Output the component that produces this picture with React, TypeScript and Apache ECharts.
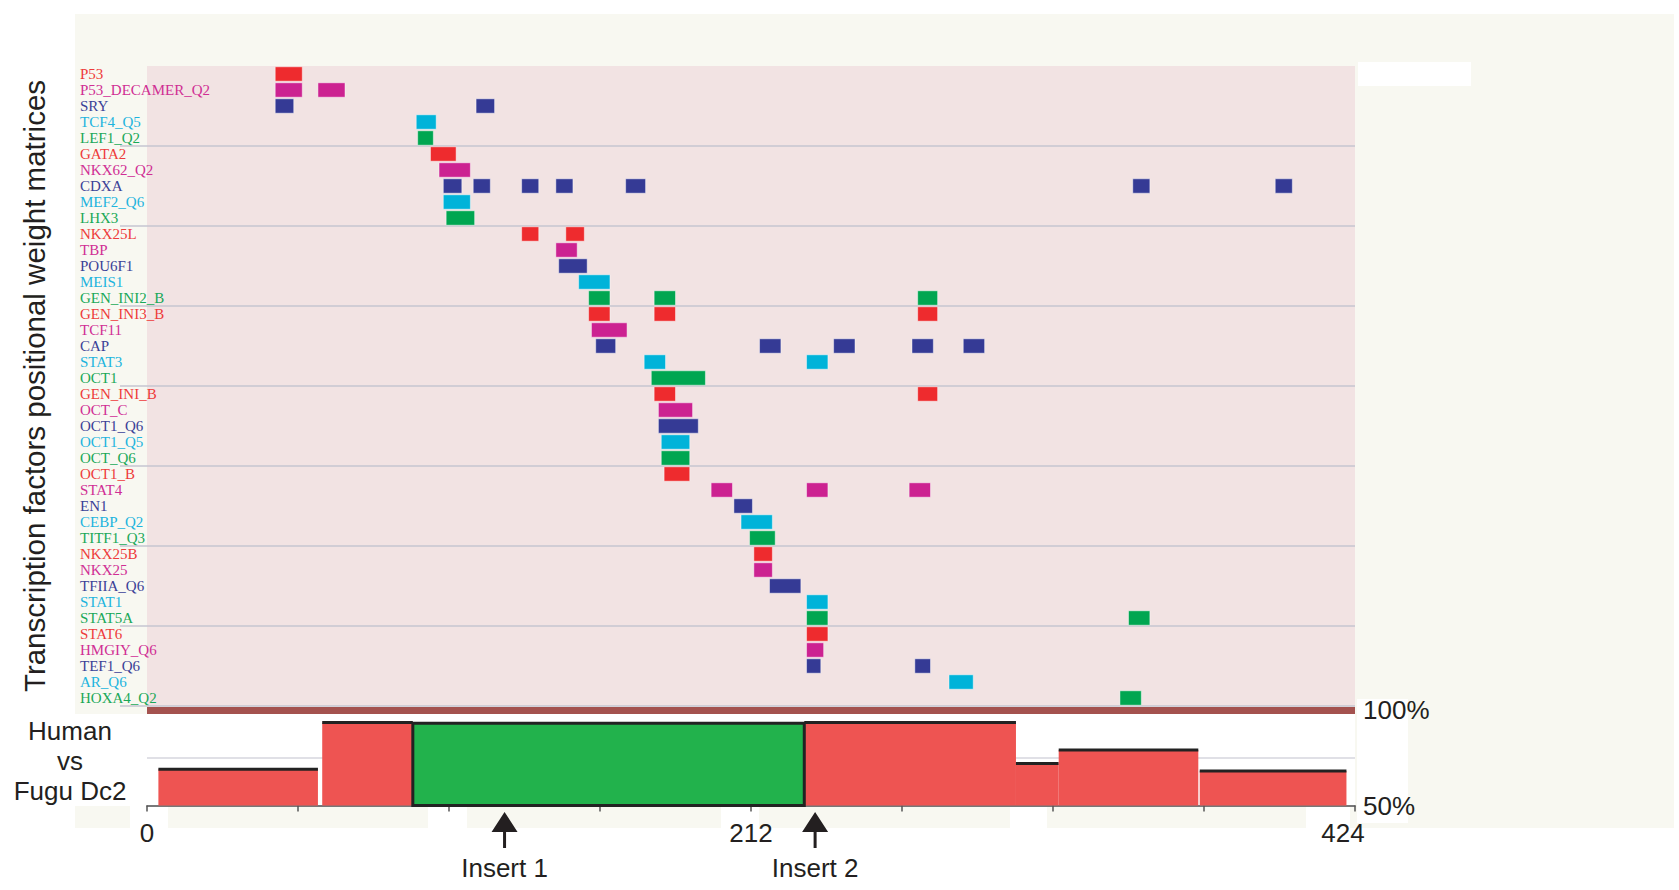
import React, { useEffect, useRef } from "react";
import * as echarts from "echarts";

// ---------- data ----------
const tfNames = [
  "P53", "P53_DECAMER_Q2", "SRY", "TCF4_Q5", "LEF1_Q2",
  "GATA2", "NKX62_Q2", "CDXA", "MEF2_Q6", "LHX3",
  "NKX25L", "TBP", "POU6F1", "MEIS1", "GEN_INI2_B",
  "GEN_INI3_B", "TCF11", "CAP", "STAT3", "OCT1",
  "GEN_INI_B", "OCT_C", "OCT1_Q6", "OCT1_Q5", "OCT_Q6",
  "OCT1_B", "STAT4", "EN1", "CEBP_Q2", "TITF1_Q3",
  "NKX25B", "NKX25", "TFIIA_Q6", "STAT1", "STAT5A",
  "STAT6", "HMGIY_Q6", "TEF1_Q6", "AR_Q6", "HOXA4_Q2",
];

// binding sites per matrix: [start, end] in bp
const tfSites: number[][][] = [
  [[45, 54.5]],
  [[45, 54.5], [60, 69.5]],
  [[45, 51.5], [115.5, 122]],
  [[94.5, 101.5]],
  [[95, 100.5]],
  [[99.5, 108.5]],
  [[102.5, 113.5]],
  [[104, 110.5], [114.5, 120.5], [131.5, 137.5], [143.5, 149.5], [168, 175], [346, 352], [396, 402]],
  [[104, 113.5]],
  [[105, 115]],
  [[131.5, 137.5], [147, 153.5]],
  [[143.5, 151]],
  [[144.5, 154.5]],
  [[151.5, 162.5]],
  [[155, 162.5], [178, 185.5], [270.5, 277.5]],
  [[155, 162.5], [178, 185.5], [270.5, 277.5]],
  [[156, 168.5]],
  [[157.5, 164.5], [215, 222.5], [241, 248.5], [268.5, 276], [286.5, 294]],
  [[174.5, 182], [231.5, 239]],
  [[177, 196]],
  [[178, 185.5], [270.5, 277.5]],
  [[179.5, 191.5]],
  [[179.5, 193.5]],
  [[180.5, 190.5]],
  [[180.5, 190.5]],
  [[181.5, 190.5]],
  [[198, 205.5], [231.5, 239], [267.5, 275]],
  [[206, 212.5]],
  [[208.5, 219.5]],
  [[211.5, 220.5]],
  [[213, 219.5]],
  [[213, 219.5]],
  [[218.5, 229.5]],
  [[231.5, 239]],
  [[231.5, 239], [344.5, 352]],
  [[231.5, 239]],
  [[231.5, 237.5]],
  [[231.5, 236.5], [269.5, 275]],
  [[281.5, 290]],
  [[341.5, 349]],
];

const siteColors = ["#ee2b2e", "#cc2291", "#353a95", "#00b3d9", "#00a651"];
const labelColors = ["#ee3b3b", "#d02e94", "#3b4197", "#1db4de", "#1aa858"];
const groupSize = 5;

// conservation profile Human vs Fugu Dc2
const segStarts = [4, 61.5, 93.3, 230.7, 305, 320, 369.5];
const segEnds = [60, 93.3, 230.7, 305, 320, 369, 421];
const segIdentity = [69, 93.5, 93, 93.5, 72, 79, 68];
const segConserved = [false, false, true, false, false, false, false];

const axisMax = 424;
const tickStep = 53;
const shownTicks = [0, 212, 424];
const identityTicks = [50, 100];
const insertNames = ["Insert 1", "Insert 2"];
const insertPositions = [125.5, 234.5];

// ---------- layout ----------
const W = 1679;
const H = 890;
const gridLeft = 147;
const gridRight = W - 1355;
const SANS = "'Liberation Sans', Arial, Helvetica, sans-serif";
const SERIF = "'Liberation Serif', 'Times New Roman', serif";
const INK = "#231f20";

function buildOption(): any {
  const siteData: number[][] = [];
  tfSites.forEach((sites, row) => {
    sites.forEach(([s, e]) => siteData.push([s, e, row]));
  });
  const sepData: number[][] = [];
  for (let b = groupSize; b <= tfNames.length; b += groupSize) sepData.push([0, b - 1]);
  const segData = segStarts.map((s, i) => [s, segEnds[i], segIdentity[i]]);

  return {
    animation: false,
    backgroundColor: "#ffffff",
    grid: [
      {
        left: gridLeft, right: gridRight, top: 66, height: 640,
        show: true, backgroundColor: "#f2e3e3", borderWidth: 0,
      },
      { left: gridLeft, right: gridRight, top: 710, height: 95.5 },
    ],
    xAxis: [
      { type: "value", gridIndex: 0, min: 0, max: axisMax, show: false },
      {
        type: "value", gridIndex: 1, min: 0, max: axisMax, interval: tickStep,
        axisLine: { show: true, lineStyle: { color: "#555", width: 1.5 } },
        axisTick: { show: true, length: 6, lineStyle: { color: "#555", width: 1.5 } },
        splitLine: { show: false },
        axisLabel: {
          margin: 14, fontSize: 26, fontFamily: SANS, color: INK,
          formatter: (v: number) => {
            if (!shownTicks.includes(v)) return "";
            return v === axisMax ? `{last|${v}}` : String(v);
          },
          rich: {
            last: { fontSize: 26, fontFamily: SANS, color: INK, padding: [0, 24, 0, 0] },
          },
        },
      },
    ],
    yAxis: [
      {
        type: "category", gridIndex: 0, data: tfNames, inverse: true,
        axisLine: { show: false }, axisTick: { show: false }, splitLine: { show: false },
        axisLabel: {
          interval: 0, align: "left", margin: 67, fontSize: 15, fontFamily: SERIF,
          color: (_v: string, i: number) => labelColors[i % groupSize],
        },
      },
      {
        type: "value", gridIndex: 1, min: 50, max: 100, interval: 25, position: "right",
        axisLine: { show: false }, axisTick: { show: false },
        splitLine: { show: true, lineStyle: { color: "#d6d6de", width: 1.5 } },
        axisLabel: {
          margin: 8, fontSize: 26, fontFamily: SANS, color: INK,
          formatter: (v: number) => (identityTicks.includes(v) ? `${v}%` : ""),
        },
      },
    ],
    graphic: [
      { type: "rect", z: -10, shape: { x: 75, y: 14, width: 1599, height: 814 }, style: { fill: "#f8f8f1" } },
      { type: "rect", z: -9, shape: { x: 74, y: 714, width: 1281, height: 92 }, style: { fill: "#ffffff" } },
      { type: "rect", z: -9, shape: { x: 1357, y: 699, width: 51, height: 124 }, style: { fill: "#ffffff" } },
      { type: "rect", z: -9, shape: { x: 1358, y: 62, width: 113, height: 24 }, style: { fill: "#ffffff" } },
      { type: "rect", z: -9, shape: { x: 130, y: 806, width: 38, height: 22 }, style: { fill: "#ffffff" } },
      { type: "rect", z: -9, shape: { x: 428, y: 806, width: 39, height: 22 }, style: { fill: "#ffffff" } },
      { type: "rect", z: -9, shape: { x: 721, y: 806, width: 38, height: 22 }, style: { fill: "#ffffff" } },
      { type: "rect", z: -9, shape: { x: 1010, y: 806, width: 37, height: 22 }, style: { fill: "#ffffff" } },
      { type: "rect", z: -9, shape: { x: 1306, y: 806, width: 44, height: 22 }, style: { fill: "#ffffff" } },
      {
        type: "text", x: 34, y: 386, rotation: Math.PI / 2,
        style: {
          text: "Transcription factors positional weight matrices",
          fontSize: 29.5, fontFamily: SANS, fill: INK, align: "center", verticalAlign: "middle",
        },
      },
      {
        type: "text", x: 70, y: 761,
        style: {
          text: "Human\nvs\nFugu Dc2", fontSize: 26, lineHeight: 30, fontFamily: SANS,
          fill: INK, align: "center", verticalAlign: "middle",
        },
      },
    ],
    series: [
      {
        type: "custom", name: "separators", xAxisIndex: 0, yAxisIndex: 0, clip: false,
        data: sepData, encode: { x: 0, y: 1 }, silent: true,
        renderItem: (_p: any, api: any) => {
          const row = api.value(1);
          const band = api.size([0, 1])[1];
          const c0 = api.coord([0, row]);
          const c1 = api.coord([axisMax, row]);
          const y = c0[1] + band / 2;
          return {
            type: "line",
            shape: { x1: c0[0] - 27, y1: y, x2: c1[0], y2: y },
            style: { stroke: "#c6c6d0", lineWidth: 1.5 },
          };
        },
      },
      {
        type: "custom", name: "sites", xAxisIndex: 0, yAxisIndex: 0,
        data: siteData, encode: { x: [0, 1], y: 2 },
        renderItem: (_p: any, api: any) => {
          const row = api.value(2);
          const a = api.coord([api.value(0), row]);
          const b = api.coord([api.value(1), row]);
          const h = api.size([0, 1])[1] * 0.9;
          return {
            type: "rect",
            z2: 5,
            shape: { x: a[0], y: a[1] - h / 2, width: b[0] - a[0], height: h },
            style: { fill: siteColors[row % groupSize], stroke: "rgba(255,255,255,0.45)", lineWidth: 1 },
          };
        },
      },
      {
        type: "custom", name: "identity", xAxisIndex: 1, yAxisIndex: 1,
        data: segData, encode: { x: [0, 1], y: 2 },
        renderItem: (p: any, api: any) => {
          const i = p.dataIndex;
          const tl = api.coord([api.value(0), api.value(2)]);
          const br = api.coord([api.value(1), 50]);
          const rect = { x: tl[0], y: tl[1], width: br[0] - tl[0], height: br[1] - tl[1] };
          if (segConserved[i]) {
            return { type: "rect", z2: 10, shape: rect, style: { fill: "#22b24c", stroke: "#222", lineWidth: 3 } };
          }
          return {
            type: "group",
            children: [
              { type: "rect", shape: rect, style: { fill: "#ee5452" } },
              {
                type: "line",
                shape: { x1: tl[0], y1: tl[1], x2: br[0], y2: tl[1] },
                style: { stroke: "#222", lineWidth: 3 },
              },
            ],
          };
        },
      },
      {
        type: "line", name: "markers", xAxisIndex: 1, yAxisIndex: 1, clip: false,
        data: [[0, 50]], symbolSize: 0, showSymbol: false, lineStyle: { opacity: 0 }, silent: true,
        markLine: {
          silent: true, symbol: ["none", "none"], label: { show: false },
          lineStyle: { color: "#a4524f", width: 7, type: "solid" },
          data: [{ yAxis: 100 }],
        },
        markPoint: {
          silent: true,
          symbol: "path://M13,0L26,20L14.5,20L14.5,36L11.5,36L11.5,20L0,20Z",
          symbolSize: [26, 36],
          symbolOffset: [0, 24.5],
          itemStyle: { color: INK },
          label: {
            show: true, position: "bottom", distance: 7, formatter: "{b}",
            fontSize: 26, fontFamily: SANS, color: INK,
          },
          data: insertNames.map((n, i) => ({ name: n, coord: [insertPositions[i], 50] })),
        },
      },
    ],
  };
}

export default function App() {
  const ref = useRef<HTMLDivElement>(null);
  useEffect(() => {
    if (!ref.current) return;
    const chart = echarts.init(ref.current, null, { renderer: "svg" });
    chart.setOption(buildOption());
    return () => chart.dispose();
  }, []);
  return (
    <div
      ref={ref}
      style={{ position: "fixed", left: 0, top: 0, width: W, height: H }}
    />
  );
}
